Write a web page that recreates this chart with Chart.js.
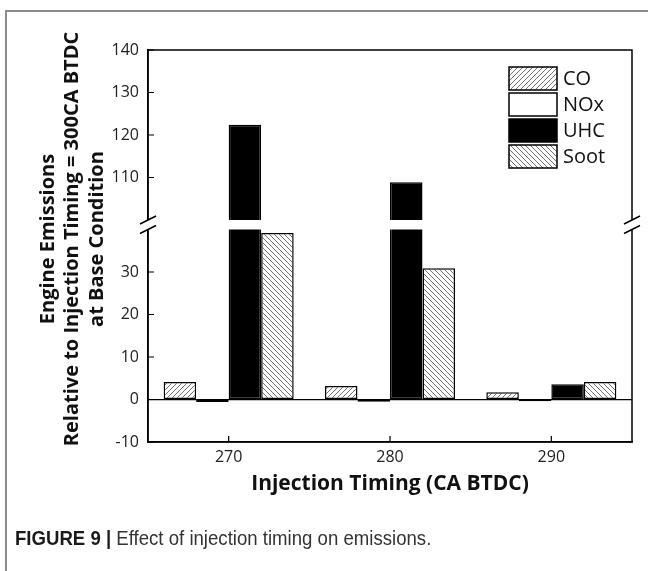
<!DOCTYPE html>
<html>
<head>
<meta charset="utf-8">
<script src="https://cdn.jsdelivr.net/npm/chart.js@4/dist/chart.umd.min.js"></script>
<style>
  html, body { margin: 0; padding: 0; background: #fff; }
  body { width: 648px; height: 571px; position: relative; overflow: hidden; }
  .frame { position: absolute; left: 5px; top: 10px; right: -4px; bottom: -4px;
           border-top: 2px solid #8c8c8c; border-left: 2px solid #8c8c8c; }
  #chart { position: absolute; left: 0; top: 0; }
  .caption { position: absolute; left: 15px; top: 527px; font-family: "Liberation Sans Narrow", "Liberation Sans", sans-serif;
             font-size: 20px; color: #333; white-space: nowrap;
             transform: scaleX(0.93); transform-origin: left center; }
  .caption b { color: #1a1a1a; }
</style>
</head>
<body>
<div class="frame"></div>
<canvas id="chart" width="648" height="571"></canvas>
<div class="caption"><b>FIGURE 9 |</b> Effect of injection timing on emissions.</div>
<script>
// timings (CA BTDC)
var timings = ['270', '280', '290'];

// emissions relative to 300CA BTDC base condition
var coValues   = [4.1, 3.2, 1.7];
var noxValues  = [-0.6, -0.5, -0.4];
var uhcValues  = [122.4, 108.9, 3.6];
var sootValues = [39.2, 30.9, 4.1];

var yTickValues = [-10, 0, 10, 20, 30, 110, 120, 130, 140];
var yTitleLines = ['Engine Emissions', 'Relative to Injection Timing = 300CA BTDC', 'at Base Condition'];

// axis break between 40 and 100
var BREAK_FROM = 40, BREAK_TO = 100, BREAK_GAP = 9.5;

var FONT = '"Open Sans", "DejaVu Sans", sans-serif';

// linear scale with a cut-out band
class BrokenScale extends Chart.LinearScale {
    unit() {
        var units = (BREAK_FROM - this.min) + (this.max - BREAK_TO);
        return (this.bottom - this.top - BREAK_GAP) / units;
    }
    getPixelForValue(value) {
        if (value === null || value === undefined || isNaN(value)) return NaN;
        var k = this.unit();
        if (value <= BREAK_FROM) return this.bottom - (value - this.min) * k;
        if (value >= BREAK_TO) return this.top + (this.max - value) * k;
        var lowTop = this.bottom - (BREAK_FROM - this.min) * k;
        return lowTop - (value - BREAK_FROM) / (BREAK_TO - BREAK_FROM) * BREAK_GAP;
    }
    getValueForPixel(pixel) {
        var k = this.unit();
        var lowTop = this.bottom - (BREAK_FROM - this.min) * k;
        if (pixel >= lowTop) return this.min + (this.bottom - pixel) / k;
        if (pixel <= lowTop - BREAK_GAP) return this.max - (pixel - this.top) / k;
        return BREAK_FROM + (lowTop - pixel) / BREAK_GAP * (BREAK_TO - BREAK_FROM);
    }
}
BrokenScale.id = 'broken';
BrokenScale.defaults = Chart.LinearScale.defaults;
Chart.register(BrokenScale);

// hatch fills
function hatch(dir) {
    var s = 5;
    var c = document.createElement('canvas');
    c.width = s; c.height = s;
    var g = c.getContext('2d');
    g.fillStyle = '#fff';
    g.fillRect(0, 0, s, s);
    g.strokeStyle = '#707070';
    g.lineWidth = 1;
    g.beginPath();
    if (dir === '/') {
        g.moveTo(-1, s + 1); g.lineTo(s + 1, -1);
        g.moveTo(-1, 1); g.lineTo(1, -1);
        g.moveTo(s - 1, s + 1); g.lineTo(s + 1, s - 1);
    } else {
        g.moveTo(-1, -1); g.lineTo(s + 1, s + 1);
        g.moveTo(s - 1, -1); g.lineTo(s + 1, 1);
        g.moveTo(-1, s - 1); g.lineTo(1, s + 1);
    }
    g.stroke();
    return g.createPattern(c, 'repeat');
}

var ctx = document.getElementById('chart').getContext('2d');

// frame, inner ticks, break band and slashes
var breakPlugin = {
    id: 'axisBreak',
    afterDatasetsDraw: function (chart) {
        var c = chart.ctx, a = chart.chartArea;
        var x = chart.scales.x, y = chart.scales.y;
        c.save();
        c.strokeStyle = '#000';
        c.lineWidth = 1.5;
        c.strokeRect(a.left, a.top, a.right - a.left, a.bottom - a.top);

        c.lineWidth = 1.2;
        c.beginPath();
        y.ticks.forEach(function (t, i) {
            var py = y.getPixelForTick(i);
            c.moveTo(a.left, py); c.lineTo(a.left + 6, py);
        });
        x.ticks.forEach(function (t, i) {
            var px = x.getPixelForTick(i);
            c.moveTo(px, a.bottom); c.lineTo(px, a.bottom - 6);
        });
        c.stroke();

        var yTop = y.getPixelForValue(BREAK_TO), yBot = y.getPixelForValue(BREAK_FROM);
        c.fillStyle = '#fff';
        c.fillRect(a.left - 3, yTop, a.right - a.left + 6, yBot - yTop);

        c.lineWidth = 1.5;
        c.beginPath();
        [a.left, a.right].forEach(function (ax) {
            [yTop, yBot].forEach(function (yy) {
                c.moveTo(ax - 8, yy + 4);
                c.lineTo(ax + 8, yy - 4);
            });
        });
        c.stroke();
        c.restore();
    },
    afterDraw: function (chart) {
        var c = chart.ctx;
        c.save();

        // y title, three rotated lines
        c.font = 'bold 20px ' + FONT;
        c.fillStyle = '#111';
        c.textAlign = 'center';
        c.textBaseline = 'middle';
        c.translate(48, 239);
        c.rotate(-Math.PI / 2);
        yTitleLines.forEach(function (t, i) {
            c.fillText(t, 0, i * 24.5);
        });
        c.setTransform(1, 0, 0, 1, 0, 0);

        // legend block in the upper right of the plot
        var bx = 509, by = 67, bw = 48, bh = 23, step = 26;
        c.font = '20px ' + FONT;
        c.textAlign = 'left';
        chart.data.datasets.forEach(function (ds, i) {
            var yy = by + i * step;
            c.fillStyle = ds.backgroundColor;
            c.fillRect(bx, yy, bw, bh);
            c.strokeStyle = '#000';
            c.lineWidth = 1.5;
            c.strokeRect(bx, yy, bw, bh);
            c.fillStyle = '#111';
            c.fillText(ds.label, bx + 54, yy + bh / 2 + 1);
        });
        c.restore();
    }
};

var myChart = new Chart(ctx, {
    type: 'bar',
    data: {
        labels: timings,
        datasets: [
            { label: 'CO',   data: coValues,   backgroundColor: hatch('/') },
            { label: 'NOx',  data: noxValues,  backgroundColor: '#fff' },
            { label: 'UHC',  data: uhcValues,  backgroundColor: '#000' },
            { label: 'Soot', data: sootValues, backgroundColor: hatch('\\') }
        ]
    },
    options: {
        responsive: false,
        animation: false,
        datasets: {
            bar: {
                borderColor: '#000',
                borderWidth: 1.5,
                borderSkipped: false,
                categoryPercentage: 0.806,
                barPercentage: 1.0
            }
        },
        layout: { padding: { left: 0, top: 50, right: 16, bottom: 66 } },
        plugins: {
            legend: { display: false },
            tooltip: { enabled: false }
        },
        scales: {
            x: {
                type: 'category',
                offset: true,
                grid: { display: false, drawTicks: false },
                border: { color: '#000', width: 1.5 },
                ticks: { color: '#222', padding: 6, font: { family: FONT, size: 16 } },
                title: {
                    display: true,
                    text: 'Injection Timing (CA BTDC)',
                    color: '#111',
                    padding: { top: 0, bottom: 8 },
                    font: { family: FONT, size: 21, weight: 'bold' }
                },
                afterFit: function (s) { s.height = 63; }
            },
            y: {
                type: 'broken',
                min: -10,
                max: 140,
                afterBuildTicks: function (s) {
                    s.ticks = yTickValues.map(function (v) { return { value: v }; });
                },
                grid: {
                    drawTicks: false,
                    color: function (c) { return c.tick && c.tick.value === 0 ? '#000' : 'rgba(0,0,0,0)'; },
                    lineWidth: 1.2
                },
                border: { color: '#000', width: 1.5 },
                ticks: {
                    color: '#222',
                    padding: 9,
                    autoSkip: false,
                    font: { family: FONT, size: 16 },
                    callback: function (v) { return String(v); }
                },
                afterFit: function (s) { s.width = 148; }
            }
        }
    },
    plugins: [breakPlugin]
});
</script>
</body>
</html>
